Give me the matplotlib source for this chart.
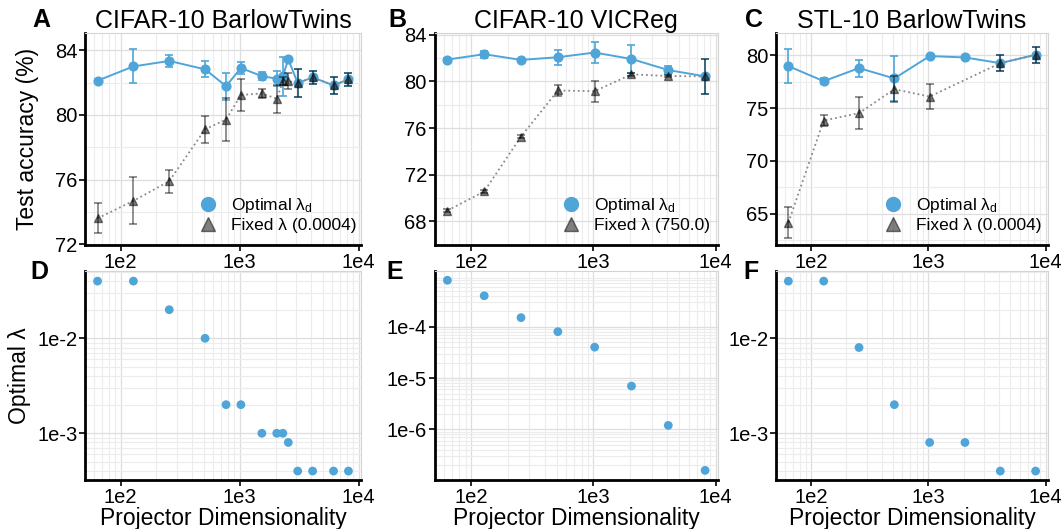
import numpy as np
import matplotlib
matplotlib.use('Agg')
import matplotlib.pyplot as plt
from matplotlib.lines import Line2D
from matplotlib.ticker import FixedLocator, NullFormatter, MultipleLocator, LogLocator

plt.rcParams['font.family'] = ['Liberation Sans', 'DejaVu Sans']
plt.rcParams['mathtext.fontset'] = 'custom'
plt.rcParams['mathtext.rm'] = 'Liberation Sans'
plt.rcParams['mathtext.it'] = 'Liberation Sans:italic'

# ---- data ----
dims_a = [64, 128, 256, 512, 768, 1024, 1536, 2048, 2304, 2560, 3072, 4096, 6144, 8192]
acc_opt_a = [82.12, 83.0, 83.34, 82.82, 81.78, 82.9, 82.4, 82.24, 82.4, 83.44, 81.97, 82.32, 81.83, 82.2]
err_opt_a = [0.1, 1.05, 0.38, 0.5, 0.83, 0.35, 0.23, 0.47, 1.2, 0.08, 0.88, 0.4, 0.54, 0.4]
acc_fix_a = [73.6, 74.68, 75.9, 79.11, 79.71, 81.23, 81.33, 81.0, 82.07, 82.1, 81.97, 82.32, 81.83, 82.2]
err_fix_a = [0.92, 1.45, 0.72, 0.83, 1.33, 0.98, 0.26, 0.88, 0.25, 0.48, 0.88, 0.4, 0.54, 0.4]
lam_a = [0.04, 0.04, 0.02, 0.01, 0.002, 0.002, 0.001, 0.001, 0.001, 0.0008,
         0.0004, 0.0004, 0.0004, 0.0004]

dims_b = [64, 128, 256, 512, 1024, 2048, 4096, 8192]
acc_opt_b = [81.87, 82.33, 81.84, 82.07, 82.47, 81.92, 80.97, 80.43]
err_opt_b = [0.1, 0.3, 0.1, 0.63, 0.93, 1.22, 0.37, 1.5]
acc_fix_b = [68.93, 70.57, 75.27, 79.22, 79.16, 80.6, 80.46, 80.43]
err_fix_b = [0.12, 0.15, 0.15, 0.5, 0.9, 0.1, 0.1, 1.5]
lam_b = [8e-4, 4e-4, 1.5e-4, 8e-5, 4e-5, 7e-6, 1.2e-6, 1.6e-7]

dims_c = [64, 128, 256, 512, 1024, 2048, 4096, 8192]
acc_opt_c = [78.99, 77.56, 78.8, 77.82, 79.94, 79.81, 79.27, 80.06]
err_opt_c = [1.6, 0.3, 0.8, 2.17, 0.1, 0.1, 0.73, 0.76]
dims_c_fix = [64, 128, 256, 512, 1024, 4096, 8192]
acc_fix_c = [64.15, 73.83, 74.53, 76.8, 76.1, 79.27, 80.06]
err_fix_c = [1.5, 0.55, 1.49, 1.23, 1.2, 0.73, 0.76]
lam_c = [0.04, 0.04, 0.008, 0.002, 0.0008, 0.0008, 0.0004, 0.0004]

titles = ['CIFAR-10 BarlowTwins', 'CIFAR-10 VICReg', 'STL-10 BarlowTwins']
fixed_labels = ['Fixed λ (0.0004)', 'Fixed λ (750.0)', 'Fixed λ (0.0004)']
letters_top = ['A', 'B', 'C']
letters_bot = ['D', 'E', 'F']

blue = '#4fa5d8'
W, H = 1063, 529

fig = plt.figure(figsize=(W / 100, H / 100), dpi=100)

# column extents in pixels (left, right)
cols = [(85, 361), (434.5, 718), (776, 1048)]
top_row = (33.3, 245)
bot_row = (270.7, 480)


def make_ax(col, row):
    l, r = col
    t, b = row
    return fig.add_axes([l / W, 1 - b / H, (r - l) / W, (b - t) / H])


def style(ax):
    ax.set_xscale('log')
    ax.set_xlim(50.2, 10445)
    ax.xaxis.set_major_locator(FixedLocator([100, 1000, 10000]))
    ax.set_xticklabels(['1e2', '1e3', '1e4'])
    ax.xaxis.set_minor_locator(LogLocator(base=10, subs=np.arange(2, 10)))
    ax.xaxis.set_minor_formatter(NullFormatter())
    ax.grid(True, which='major', color='#dedede', lw=0.9)
    ax.grid(True, which='minor', color='#ececec', lw=0.8)
    ax.set_axisbelow(True)
    for s in ['top', 'right']:
        ax.spines[s].set_color('#d4d4d4')
        ax.spines[s].set_linewidth(0.8)
    for s in ['left', 'bottom']:
        ax.spines[s].set_color('black')
        ax.spines[s].set_linewidth(2.0)
    ax.tick_params(which='major', length=4, width=1.2, color='black',
                   labelsize=14.5, pad=1.5)
    ax.tick_params(which='minor', length=0)


top_data = [
    (dims_a, acc_opt_a, err_opt_a, dims_a, acc_fix_a, err_fix_a, (71.95, 85.05), 4),
    (dims_b, acc_opt_b, err_opt_b, dims_b, acc_fix_b, err_fix_b, (65.98, 84.12), 4),
    (dims_c, acc_opt_c, err_opt_c, dims_c_fix, acc_fix_c, err_fix_c, (62.03, 82.1), 5),
]
leg_x = [0.413, 0.451, 0.397]

for i, (dx, yo, eo, dfx, yf, ef, ylim, step) in enumerate(top_data):
    ax = make_ax(cols[i], top_row)
    style(ax)
    ax.errorbar(dx, yo, yerr=eo, fmt='o-', color=blue, ms=6.3, lw=1.4,
                elinewidth=1.2, capsize=3, capthick=1.2, zorder=3)
    ax.plot(dfx, yf, ':', color='#8a8a8a', lw=1.3, zorder=4)
    ax.errorbar(dfx, yf, yerr=ef, fmt='^', color='black', alpha=0.5, ms=6,
                elinewidth=1.2, capsize=3, capthick=1.2, zorder=5)
    ax.set_ylim(*ylim)
    ax.yaxis.set_major_locator(MultipleLocator(step))
    ax.yaxis.set_minor_locator(MultipleLocator(step / 2))
    ax.set_title(titles[i], fontsize=18, pad=4)
    if i == 0:
        ax.set_ylabel('Test accuracy (%)', fontsize=16.5)
        ax.yaxis.set_label_coords(-0.165, 0.5)
    handles = [
        Line2D([], [], marker='o', ls='none', color=blue, ms=10),
        Line2D([], [], marker='^', ls='none', color='black', alpha=0.5, ms=10),
    ]
    ax.legend(handles, [r'Optimal λ$_\mathrm{d}$', fixed_labels[i]],
              loc='lower left', bbox_to_anchor=(leg_x[i], 0.055),
              frameon=False, fontsize=12.5, handlelength=1.0,
              handletextpad=0.85, labelspacing=0.18, borderpad=0,
              borderaxespad=0)

bot_data = [
    (dims_a, lam_a, (3.22e-4, 0.0515), [1e-3, 1e-2], ['1e-3', '1e-2']),
    (dims_b, lam_b, (1.04e-7, 1.23e-3), [1e-6, 1e-5, 1e-4], ['1e-6', '1e-5', '1e-4']),
    (dims_c, lam_c, (3.22e-4, 0.0515), [1e-3, 1e-2], ['1e-3', '1e-2']),
]

for i, (dx, lam, ylim, yt, ytl) in enumerate(bot_data):
    ax = make_ax(cols[i], bot_row)
    style(ax)
    ax.set_yscale('log')
    ax.scatter(dx, lam, s=40, color=blue, edgecolors='none', zorder=3)
    ax.set_ylim(*ylim)
    ax.yaxis.set_major_locator(FixedLocator(yt))
    ax.set_yticklabels(ytl)
    ax.yaxis.set_minor_locator(LogLocator(base=10, subs=np.arange(2, 10)))
    ax.yaxis.set_minor_formatter(NullFormatter())
    ax.set_xlabel('Projector Dimensionality', fontsize=16.5, labelpad=0)
    if i == 0:
        ax.set_ylabel('Optimal λ', fontsize=16.5)
        ax.yaxis.set_label_coords(-0.195, 0.5)

letter_x = [32, 388, 745]
for i in range(3):
    fig.text(letter_x[i] / W, 1 - 20 / H, letters_top[i], fontsize=18,
             fontweight='bold', ha='left', va='center')
    fig.text((letter_x[i] - 2) / W, 1 - 272 / H, letters_bot[i], fontsize=18,
             fontweight='bold', ha='left', va='center')

fig.savefig('out.png', dpi=100)
